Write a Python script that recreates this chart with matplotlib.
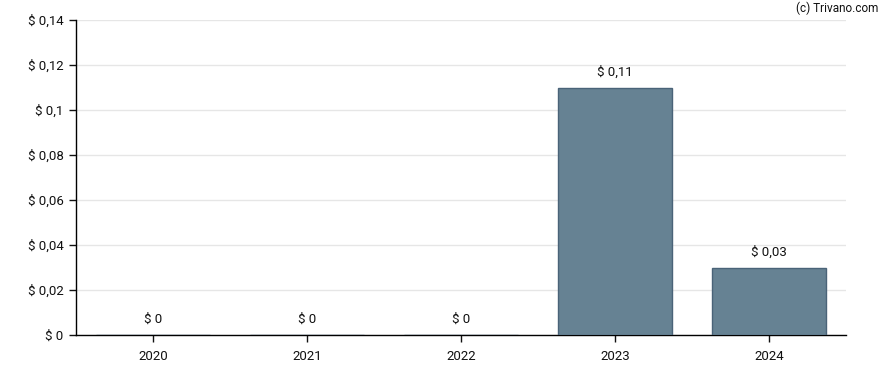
import matplotlib.pyplot as plt

plt.rcParams['font.family'] = ['Roboto', 'DejaVu Sans']

# Data
years = ['2020', '2021', '2022', '2023', '2024']
values = [0, 0, 0, 0.11, 0.03]
value_labels = ['$ 0', '$ 0', '$ 0', '$ 0,11', '$ 0,03']
y_ticks = [0, 0.02, 0.04, 0.06, 0.08, 0.1, 0.12, 0.14]
y_tick_labels = ['$ 0', '$ 0,02', '$ 0,04', '$ 0,06', '$ 0,08', '$ 0,1', '$ 0,12', '$ 0,14']

fig = plt.figure(figsize=(8.88, 3.70), dpi=100)
ax = fig.add_axes([76 / 888, 35 / 370, 770 / 888, 315 / 370])

x = range(len(years))
ax.bar(x, values, width=0.74, color='#668293', edgecolor='#4a6378', linewidth=1, zorder=3)

for xi, v, lab in zip(x, values, value_labels):
    ax.annotate(lab, (xi, v), xytext=(0, 11), textcoords='offset points',
                ha='center', va='center', fontsize=9.5, color='#111111')

ax.set_xlim(-0.5, len(years) - 0.5)
ax.set_ylim(0, 0.14)
ax.set_xticks(list(x))
ax.set_xticklabels(years)
ax.set_yticks(y_ticks)
ax.set_yticklabels(y_tick_labels)
ax.tick_params(labelsize=9.5, colors='#111111', length=5, width=1, pad=4)
ax.tick_params(axis='x', pad=6)

ax.grid(axis='y', color='#e6e6e6', linewidth=1, zorder=0)
ax.set_axisbelow(True)
for side in ['top', 'right']:
    ax.spines[side].set_visible(False)
for side in ['left', 'bottom']:
    ax.spines[side].set_color('black')
    ax.spines[side].set_linewidth(1)

fig.text(878 / 888, 1 - 8 / 370, '(c) Trivano.com', ha='right', va='center', fontsize=8.5, color='#111111')

fig.savefig('out.png', dpi=100)
